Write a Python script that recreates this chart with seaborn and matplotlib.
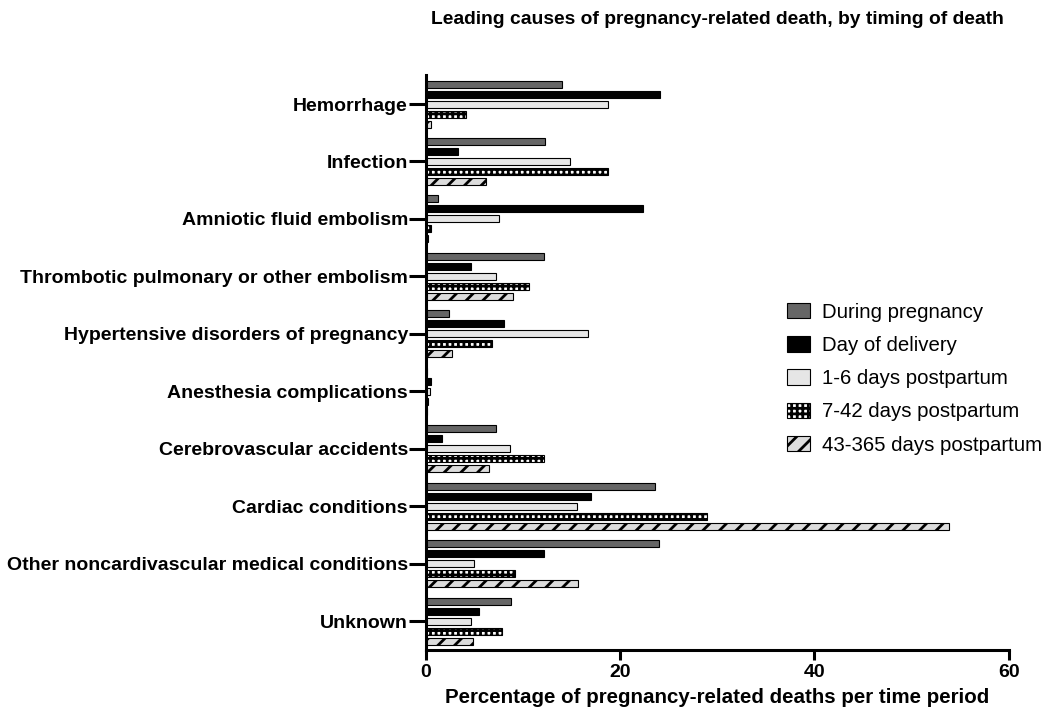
import numpy as np
import pandas as pd
import matplotlib
matplotlib.use("Agg")
import matplotlib.pyplot as plt
import seaborn as sns

### data ###
causes = ["Hemorrhage", "Infection", "Amniotic fluid embolism",
          "Thrombotic pulmonary or other embolism",
          "Hypertensive disorders of pregnancy", "Anesthesia complications",
          "Cerebrovascular accidents", "Cardiac conditions",
          "Other noncardivascular medical conditions", "Unknown"]
periods = ["During pregnancy", "Day of delivery", "1-6 days postpartum",
           "7-42 days postpartum", "43-365 days postpartum"]

during_pregnancy = [14.0, 12.3, 1.2, 12.1, 2.4, 0.1, 7.2, 23.6, 24.0, 8.8]
day_of_delivery = [24.1, 3.3, 22.3, 4.6, 8.0, 0.5, 1.7, 17.0, 12.1, 5.5]
days_1_6 = [18.7, 14.8, 7.5, 7.2, 16.7, 0.4, 8.6, 15.5, 4.9, 4.6]
days_7_42 = [4.1, 18.7, 0.5, 10.6, 6.8, 0.2, 12.1, 28.9, 9.2, 7.8]
days_43_365 = [0.5, 6.2, 0.2, 9.0, 2.7, 0.1, 6.5, 53.8, 15.6, 4.8]

series = [during_pregnancy, day_of_delivery, days_1_6, days_7_42, days_43_365]
rows = []
for p, vals in zip(periods, series):
    for c, v in zip(causes, vals):
        rows.append({"cause": c, "period": p, "pct": v})
df = pd.DataFrame(rows)

### style ###
sns.set_style("ticks")
plt.rcParams["font.family"] = ["Liberation Sans", "DejaVu Sans"]
plt.rcParams["font.weight"] = "bold"
plt.rcParams["hatch.linewidth"] = 2.0
for k in ["text.color", "axes.labelcolor", "xtick.color", "ytick.color",
          "axes.edgecolor"]:
    plt.rcParams[k] = "black"

faces = ["#666666", "#000000", "#e6e6e6", "#ffffff", "#dcdcdc"]
hatches = [None, None, None, "+++", "//"]

fig = plt.figure(figsize=(10.5, 7.17), dpi=100)
ax = fig.add_axes([0.4057, 0.0934, 0.555, 0.8016])

sns.barplot(data=df, x="pct", y="cause", hue="period", order=causes,
            hue_order=periods, orient="h", width=0.87, gap=0.3,
            errorbar=None, ax=ax, legend=False)

for cont, fc, h in zip(ax.containers, faces, hatches):
    for bar in cont.patches:
        bar.set_facecolor(fc)
        bar.set_edgecolor("black")
        bar.set_linewidth(0.8)
        if h:
            bar.set_hatch(h)

ax.set_xlim(0, 60)
ax.set_xticks([0, 20, 40, 60])
ax.set_ylim(9.5, -0.5)
sns.despine(ax=ax)
for s in ["left", "bottom"]:
    ax.spines[s].set_linewidth(2.2)
ax.tick_params(axis="y", length=12, width=2.2, labelsize=14, pad=1)
ax.tick_params(axis="x", length=7, width=2.2, labelsize=14, pad=3)
for lab in ax.get_yticklabels() + ax.get_xticklabels():
    lab.set_fontweight("bold")

ax.set_ylabel("")
ax.set_xlabel("Percentage of pregnancy-related deaths per time period",
              fontsize=14.8, fontweight="bold", labelpad=5)
ax.set_title("Leading causes of pregnancy-related death, by timing of death",
             fontsize=13.9, fontweight="bold", pad=37)

ax.legend(ax.containers, periods, loc="upper left",
          bbox_to_anchor=(0.7495, 0.578), bbox_transform=fig.transFigure,
          frameon=False, prop={"size": 14.7, "weight": "normal"},
          borderpad=0, borderaxespad=0,
          handlelength=1.13, handleheight=0.8, handletextpad=0.6,
          labelspacing=0.7)

fig.savefig("out.png", dpi=100)
